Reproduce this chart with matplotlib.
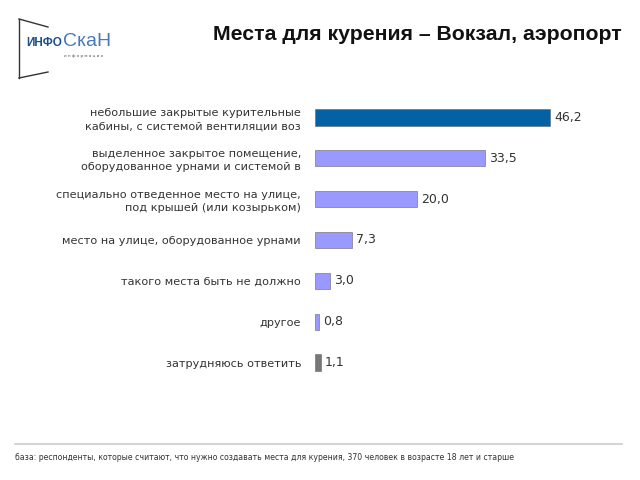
import matplotlib.pyplot as plt
from matplotlib.lines import Line2D

categories = [
    'небольшие закрытые курительные\nкабины, с системой вентиляции воз',
    'выделенное закрытое помещение,\nоборудованное урнами и системой в',
    'специально отведенное место на улице,\nпод крышей (или козырьком)',
    'место на улице, оборудованное урнами',
    'такого места быть не должно',
    'другое',
    'затрудняюсь ответить',
]
values = [46.2, 33.5, 20.0, 7.3, 3.0, 0.8, 1.1]
value_labels = ['46,2', '33,5', '20,0', '7,3', '3,0', '0,8', '1,1']
colors = ['#0462A4', '#9999FF', '#9999FF', '#9999FF', '#9999FF', '#9999FF', '#777777']

fig = plt.figure(figsize=(6.4, 4.8), dpi=100)
plt.rcParams['font.family'] = ['DejaVu Sans']

ax = fig.add_axes([315 / 640, 1 - 383 / 480, 305 / 640, 286 / 480])
y = list(range(len(values)))
ax.barh(y, values, height=0.4, color=colors, edgecolor='#666666', linewidth=0.4)
ax.set_xlim(0, 60)
ax.set_ylim(len(values) - 0.5, -0.5)
for s in ax.spines.values():
    s.set_visible(False)
ax.set_xticks([])
ax.set_yticks(y)
ax.set_yticklabels(categories, fontsize=8.1, color='#333333', linespacing=1.4)
ax.tick_params(axis='y', length=0, pad=10)
for yi, v, lab in zip(y, values, value_labels):
    ax.text(v + 0.8, yi, lab, va='center', ha='left', fontsize=9, color='#333333')

# title
fig.text(622 / 640, 1 - 35 / 480, 'Места для курения – Вокзал, аэропорт',
         ha='right', va='center', fontsize=15.3, fontweight='bold',
         family='Liberation Sans', color='#111111')

# logo
fx = lambda px: px / 640
fy = lambda py: 1 - py / 480
for (x0, y0, x1, y1) in [(19, 19, 19, 78), (19, 19, 48, 27), (19, 78, 48, 72)]:
    fig.add_artist(Line2D([fx(x0), fx(x1)], [fy(y0), fy(y1)], color='#333333', lw=1.0))
fig.text(fx(26), fy(43), 'ИНФО', fontsize=8.5, fontweight='bold', color='#1F4E8C',
         family='Liberation Sans', va='center', ha='left')
fig.text(fx(63), fy(42), 'СкаН', fontsize=14, color='#4A78B8',
         family='Liberation Sans', va='center', ha='left')
fig.text(fx(64), fy(56), 'и н ф о р м а ц и я', fontsize=3, color='#555555',
         va='center', ha='left')

# footer
fig.add_artist(Line2D([fx(15), fx(622)], [fy(444), fy(444)], color='#CCCCCC', lw=1.2))
fig.text(fx(15), fy(457),
         'база: респонденты, которые считают, что нужно создавать места для курения, 370 человек в возрасте 18 лет и старше',
         fontsize=5.6, color='#333333', va='center', ha='left')

fig.savefig('out.png', dpi=100)
